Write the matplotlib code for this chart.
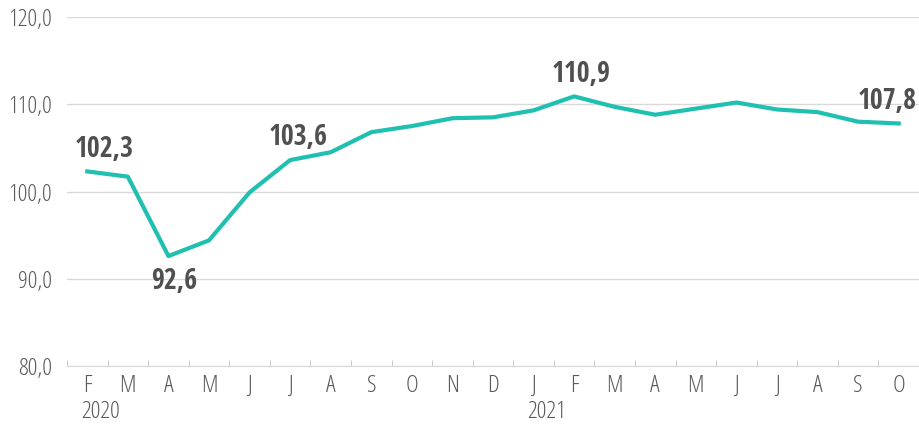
import matplotlib.pyplot as plt
from matplotlib import font_manager
from matplotlib.font_manager import FontProperties

months = ["F", "M", "A", "M", "J", "J", "A", "S", "O", "N", "D",
          "J", "F", "M", "A", "M", "J", "J", "A", "S", "O"]
values = [102.3, 101.7, 92.6, 94.4, 99.9, 103.6, 104.5, 106.8, 107.5, 108.4, 108.5,
          109.3, 110.9, 109.7, 108.8, 109.5, 110.2, 109.4, 109.1, 108.0, 107.8]
years = ["2020", "2021"]
year_start = [0, 11]
# punti con etichetta: indice -> spostamento orizzontale in punti
labelled = {0: 12, 2: 4, 5: 6, 12: 5, 20: -8}


def find_font(fname, fallback_weight):
    for f in font_manager.fontManager.ttflist:
        if f.fname.endswith(fname):
            return FontProperties(fname=f.fname)
    return FontProperties(family="DejaVu Sans", weight=fallback_weight)


light = find_font("OpenSans-CondLight.ttf", "normal")
bold = find_font("OpenSans-CondBold.ttf", "bold")

LINE = "#20c0b1"
TXT = "#595959"

fig = plt.figure(figsize=(9.19, 4.30), dpi=100)
ax = fig.add_axes([67 / 919, 1 - 366 / 430, 1 - 67 / 919, (366 - 17) / 430])

x = list(range(len(values)))
ax.plot(x, values, color=LINE, lw=3, zorder=3)

ax.set_ylim(80, 120)
ax.set_xlim(-0.5, len(values) - 0.5)
yt = [80, 90, 100, 110, 120]
ax.set_yticks(yt)
ax.set_yticklabels([f"{v:.1f}".replace(".", ",") for v in yt])
ax.grid(axis="y", color="#d9d9d9", lw=1)
ax.set_axisbelow(True)

ax.set_xticks(x)
ax.set_xticklabels(months)
ax.set_xticks([i - 0.5 for i in range(len(values) + 1)], minor=True)
ax.tick_params(axis="x", which="major", length=0, pad=6, labelcolor=TXT)
ax.tick_params(axis="x", which="minor", length=4, color="#bfbfbf", direction="in")
ax.tick_params(axis="y", length=0, pad=11, labelcolor=TXT)
for t in ax.get_xticklabels() + ax.get_yticklabels():
    t.set_fontproperties(light)
    t.set_fontsize(17.5)

for s in ["top", "right", "left"]:
    ax.spines[s].set_visible(False)
ax.spines["bottom"].set_color("#d9d9d9")

for i, y in zip(year_start, years):
    ax.annotate(y, xy=(i - 0.15, 80), xycoords="data", xytext=(0, -33),
                textcoords="offset points", ha="left", va="center",
                fontproperties=light, fontsize=17.5, color=TXT, annotation_clip=False)

for i, dx in labelled.items():
    below = i == 2
    ax.annotate(f"{values[i]:.1f}".replace(".", ","), xy=(i, values[i]),
                xytext=(dx, -18 if below else 16), textcoords="offset points",
                ha="center", va="center", fontproperties=bold, fontsize=20,
                color="#505050", annotation_clip=False)

fig.savefig("out.png", dpi=100)
